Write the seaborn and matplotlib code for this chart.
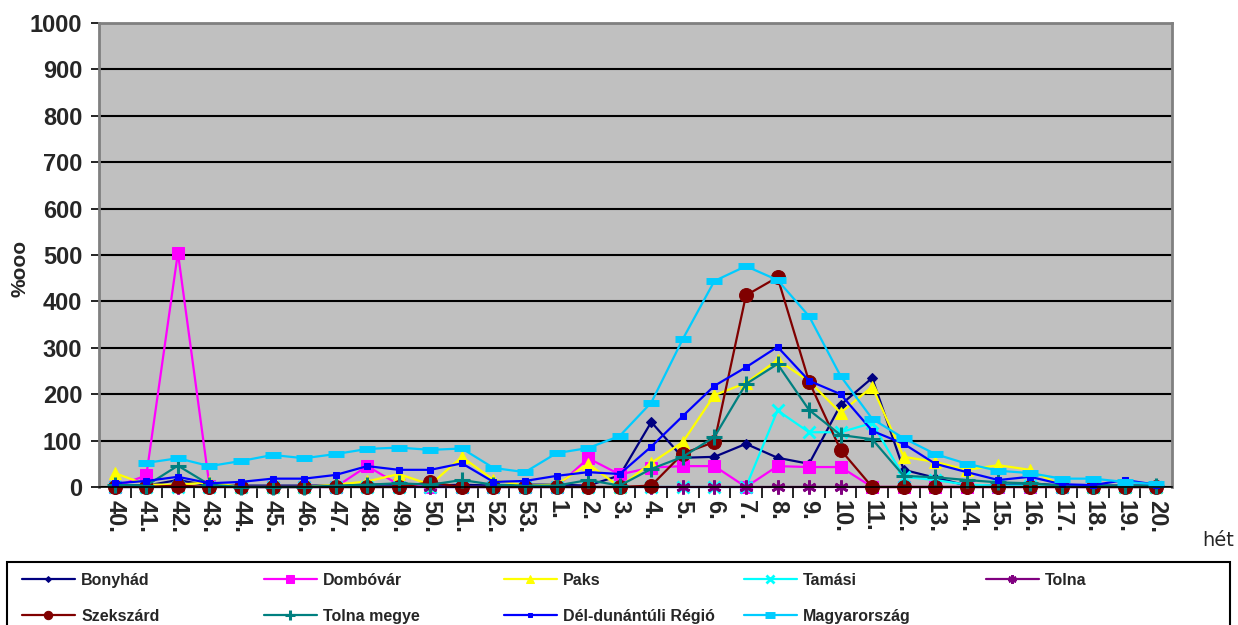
import numpy as np
import pandas as pd
import seaborn as sns
import matplotlib.pyplot as plt
from matplotlib.patches import Rectangle

# week labels (40. .. 53., 1. .. 20.)
weeks = [f"{w}." for w in list(range(40, 54)) + list(range(1, 21))]

bonyhad = [5, 3, 15, 3, 3, 3, 3, 3, 5, 5, 3, 5, 3, 5, 5, 3, 25, 140, 63, 65, 93, 63, 50, 177, 235, 37, 20, 3, 3, 8, 3, 3, 3, 3]
dombovar = [0, 25, 505, 3, 0, 0, 0, 0, 45, 5, 0, 0, 0, 0, 0, 62, 27, 42, 45, 45, 0, 45, 43, 43, 0, 0, 0, 0, 0, 0, 0, 0, 0, 0]
paks = [30, 5, 5, 10, 0, 0, 0, 5, 12, 28, 5, 65, 15, 3, 5, 50, 0, 52, 97, 198, 224, 274, 228, 160, 216, 65, 54, 37, 47, 37, 3, 0, 0, 0]
tamasi = [0] * 21 + [165, 118, 118, 138, 22, 15, 5, 3, 3, 0, 0, 0, 0]
tolna = [0] * 34
szekszard = [0, 0, 3, 0, 0, 0, 0, 0, 0, 0, 10, 0, 0, 0, 0, 0, 0, 3, 72, 97, 413, 452, 227, 80, 0, 0, 0, 0, 0, 0, 0, 0, 0, 0]
tolna_megye = [5, 3, 46, 5, 0, 0, 0, 3, 5, 8, 5, 15, 5, 3, 3, 15, 3, 39, 65, 108, 222, 265, 166, 112, 103, 24, 21, 15, 10, 8, 3, 3, 3, 3]
del_dunantul = [8, 13, 22, 8, 11, 18, 18, 26, 45, 37, 37, 51, 11, 13, 24, 32, 28, 87, 153, 218, 258, 302, 229, 200, 121, 93, 50, 32, 15, 22, 6, 4, 15, 5]
magyarorszag = [np.nan, 52, 62, 45, 56, 69, 62, 71, 82, 85, 80, 83, 41, 32, 73, 84, 110, 182, 319, 444, 476, 446, 368, 239, 147, 105, 71, 50, 35, 30, 18, 18, 11, 6]

series = [
    ("Bonyhád", bonyhad, "#000080", dict(marker="D", markersize=5)),
    ("Dombóvár", dombovar, "#FF00FF", dict(marker="s", markersize=9)),
    ("Paks", paks, "#FFFF00", dict(marker="^", markersize=9)),
    ("Tamási", tamasi, "#00FFFF", dict(marker="x", markersize=9, markeredgewidth=2)),
    ("Tolna", tolna, "#800080", dict(marker=(6, 2, 0), markersize=10, markeredgewidth=2)),
    ("Szekszárd", szekszard, "#800000", dict(marker="o", markersize=10)),
    ("Tolna megye", tolna_megye, "#008080", dict(marker="+", markersize=11, markeredgewidth=2.2)),
    ("Dél-dunántúli Régió", del_dunantul, "#0000FF", dict(marker="s", markersize=5)),
    ("Magyarország", magyarorszag, "#00CCFF", dict(marker="_", markersize=11, markeredgewidth=5)),
]

sns.set_style("white")
plt.rcParams['font.family'] = ['Liberation Sans', 'DejaVu Sans']

fig = plt.figure(figsize=(12.38, 6.25), dpi=100)
ax = fig.add_axes([99 / 1238, 1 - 487 / 625, (1172 - 99) / 1238, (487 - 23) / 625])
ax.set_facecolor("#C0C0C0")

pos = np.arange(len(weeks))
for name, vals, col, mk in series:
    df = pd.DataFrame({"x": pos, "y": vals})
    sns.lineplot(data=df, x="x", y="y", ax=ax, color=col, linewidth=1.6,
                 label=name, markeredgecolor=col, clip_on=False, **mk)

ax.set_xlim(-0.5, len(weeks) - 0.5)
ax.set_ylim(0, 1000)
ax.set_yticks(range(0, 1001, 100))
ax.set_yticklabels([str(v) for v in range(0, 1001, 100)], fontsize=17, fontweight="bold")
ax.set_xticks(pos)
ax.set_xticklabels(weeks, rotation=270, fontsize=17, fontweight="bold")
ax.set_xticks(pos[:-1] + 0.5, minor=True)
ax.tick_params(axis="x", which="major", length=0, pad=9, bottom=True)
ax.tick_params(axis="x", which="minor", length=8, width=1.2, color="black",
               direction="out", bottom=True)
ax.tick_params(axis="y", length=6, width=1.2, color="black", direction="out", pad=6, left=True)
ax.yaxis.grid(True, color="black", linewidth=1.5)
ax.xaxis.grid(False)
ax.set_axisbelow(True)
for s in ["left", "right", "top"]:
    ax.spines[s].set_color("#808080")
    ax.spines[s].set_linewidth(2)
ax.spines["bottom"].set_color("black")
ax.spines["bottom"].set_linewidth(1.2)
ax.set_xlabel("")
ax.set_ylabel("")

fig.text(20 / 1238, 1 - 268 / 625, "%ooo", rotation=90, fontsize=15, fontweight="bold",
         ha="center", va="center")
fig.text(1218 / 1238, 1 - 541 / 625, "hét", fontsize=14, ha="center", va="center",
         family=["DejaVu Sans"])

handles, labels = ax.get_legend_handles_labels()
ax.get_legend().remove()

# legend frame and five columns, row by row order
fig.add_artist(Rectangle((7 / 1238, -0.02), (1230 - 7) / 1238, 0.02 + (625 - 562) / 625,
                         transform=fig.transFigure, fill=False, edgecolor="black", linewidth=1.5))
col_x = [22, 264, 504, 744, 986]
for k in range(5):
    idx = [k, k + 5] if k + 5 < len(handles) else [k]
    fig.legend([handles[i] for i in idx], [labels[i] for i in idx],
               loc="upper left", bbox_to_anchor=(col_x[k] / 1238, 1 - 573 / 625),
               frameon=False, borderpad=0, borderaxespad=0, handlelength=3.3,
               handletextpad=0.4, labelspacing=1.3, markerscale=0.6,
               prop={"size": 11.5, "weight": "bold"})

fig.savefig("out.png", dpi=100, facecolor="white")
